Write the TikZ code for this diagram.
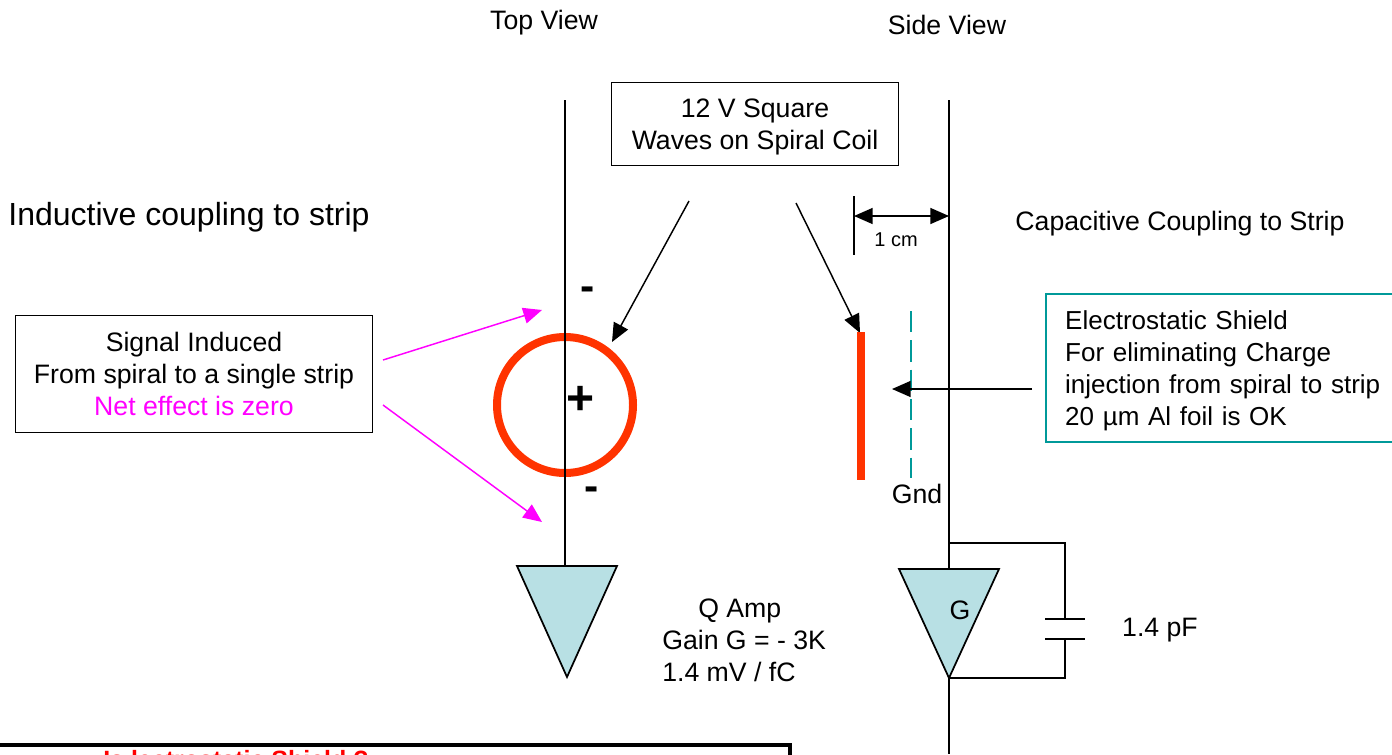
\documentclass[tikz,border=0pt]{standalone}
\usepackage{fontspec}
\setmainfont{Liberation Sans}
\usetikzlibrary{arrows.meta,positioning,calc}
\definecolor{coilred}{RGB}{255,51,0}
\definecolor{ampblue}{RGB}{184,224,228}
\definecolor{shieldteal}{RGB}{0,153,153}
\definecolor{netpink}{RGB}{255,0,255}
\tikzset{
  lbl/.style={inner sep=0pt, font=\fontsize{20}{24}\selectfont},
  boxed/.style={draw, line width=1.1pt, fill=white, font=\fontsize{20}{24}\selectfont, align=center},
  stripline/.style={line width=1.1pt},
  tip/.style={-{Triangle[length=14pt,width=12pt]}, line width=1.1pt},
  ptip/.style={-{Triangle[length=14pt,width=12pt]}, line width=1.1pt, draw=netpink, color=netpink},
  amp/.style={draw, line width=1.3pt, fill=ampblue},
  sign/.style={inner sep=0pt, font=\fontsize{32}{32}\bfseries\selectfont}
}
\begin{document}
\begin{tikzpicture}[x=0.75pt,y=-0.75pt]
\useasboundingbox (0,0) rectangle (1392,754);
% Headings
\node[lbl] (topview) at (544,23) {Top View};
\node[lbl] (sideview) at (947,25) {Side View};
\node[lbl, font=\fontsize{24}{28}\selectfont] (inductive) at (189,217) {Inductive coupling to strip};
\node[lbl] (capacitive) at (1180,224) {Capacitive Coupling to Strip};

% Strips
\coordinate (topa) at (565,100);
\coordinate (topb) at (565,566);
\coordinate (sidea) at (949,100);
\coordinate (sideb) at (949,569);
\coordinate (sidec) at (949,678);
\coordinate (sided) at (949,754);

% Coil
\node[draw=coilred, circle, line width=6pt, minimum size=102pt, inner sep=0pt] (coil) at (565,405) {};
\draw[stripline] (topa) -- (topb);
\draw[stripline] (sidea) -- (sideb);
\draw[stripline] (sidec) -- (sided);
\node[sign, font=\fontsize{36}{36}\bfseries\selectfont] (plus) at (581,400) {+};
\node[sign] (minusa) at (588,294) {-};
\node[sign] (minusb) at (592,494) {-};

% Square wave box
\node[boxed, minimum width=287*0.75pt, minimum height=83*0.75pt] (wave) at (755,124) {\rule{0pt}{19pt}12 V Square\\Waves on Spiral Coil};
\coordinate (wavea) at (689,201);
\coordinate (waveb) at (796,203);
\coordinate (coiltip) at (612,342);
\coordinate (striptop) at (860,333);
\draw[tip] (wavea) -- (coiltip);
\draw[tip] (waveb) -- (striptop);

% Signal box
\node[boxed, minimum width=357*0.75pt, minimum height=117*0.75pt] (signal) at (194,374) {Signal Induced\\From spiral to a single strip\\\textcolor{netpink}{Net effect is zero}};
\coordinate (siga) at (383,360);
\coordinate (sigb) at (383,405);
\coordinate (sigc) at (542,310);
\coordinate (sigd) at (542,522);
\draw[ptip] (siga) -- (sigc);
\draw[ptip] (sigb) -- (sigd);

% Side strip, shield
\coordinate (reda) at (861,332);
\coordinate (redb) at (861,480);
\draw[coilred, line width=6pt] (reda) -- (redb);
\coordinate (shielda) at (911,311);
\coordinate (shieldb) at (911,478);
\draw[shieldteal, line width=2.2pt, dash pattern=on 16pt off 6pt] (shielda) -- (shieldb);
\node[lbl] (gnd) at (917,494) {Gnd};

% 1 cm
\coordinate (cma) at (854,196);
\coordinate (cmb) at (854,255);
\coordinate (cmc) at (854,216);
\coordinate (cmd) at (949,216);
\draw[line width=1.1pt] (cma) -- (cmb);
\draw[{Triangle[length=14pt,width=12pt]}-{Triangle[length=14pt,width=12pt]}, line width=1.1pt] (cmc) -- (cmd);
\node[lbl, font=\fontsize{15}{18}\selectfont] (cm) at (896,240) {1 cm};

% Shield box
\node[draw=shieldteal, line width=1.5pt, fill=white, font=\fontsize{19.5}{24}\selectfont, align=left, minimum height=148*0.75pt, text width=340*0.75pt, inner xsep=14.4pt, inner ysep=0pt, anchor=north west] (shield) at (1045,293) {\rule{0pt}{19pt}Electrostatic Shield\\For eliminating Charge\\injection from spiral to strip\\20 µm Al foil is OK};
\coordinate (shieldc) at (1032,389);
\coordinate (shieldd) at (892,389);
\draw[tip] (shieldc) -- (shieldd);

% Left amp
\coordinate (ampa) at (517,566);
\coordinate (ampb) at (617,566);
\coordinate (ampc) at (567,677);
\draw[amp] (ampa) -- (ampb) -- (ampc) -- cycle;
\node[lbl, align=left, anchor=north west] (gain) at (662,599) {\hspace*{27pt}Q Amp\\Gain G = - 3K\\1.4 mV / fC};

% Side amp
\coordinate (ampd) at (899,569);
\coordinate (ampe) at (999,569);
\draw[amp] (ampd) -- (ampe) -- (sidec) -- cycle;
\node[lbl] (gee) at (960,610) {G};
\coordinate (fba) at (949,543);
\coordinate (fbb) at (1065,543);
\coordinate (fbc) at (1065,619);
\coordinate (fbd) at (1065,639);
\coordinate (fbe) at (1065,678);
\coordinate (capa) at (1045,619);
\coordinate (capb) at (1085,619);
\coordinate (capc) at (1045,639);
\coordinate (capd) at (1085,639);
\draw[stripline] (fba) -- (fbb) -- (fbc);
\draw[stripline] (fbd) -- (fbe) -- (sidec);
\draw[stripline] (capa) -- (capb);
\draw[stripline] (capc) -- (capd);
\node[lbl] (pf) at (1160,630) {1.4 pF};

% Bottom box
\draw[line width=3.2pt, fill=white] (-10,745) rectangle (790,800);
\node[inner sep=0pt, text=red, anchor=base west, font=\fontsize{18.75}{22}\bfseries\selectfont] (question) at (103,768) {Is lectrostatic Shield ?};
\end{tikzpicture}
\end{document}
